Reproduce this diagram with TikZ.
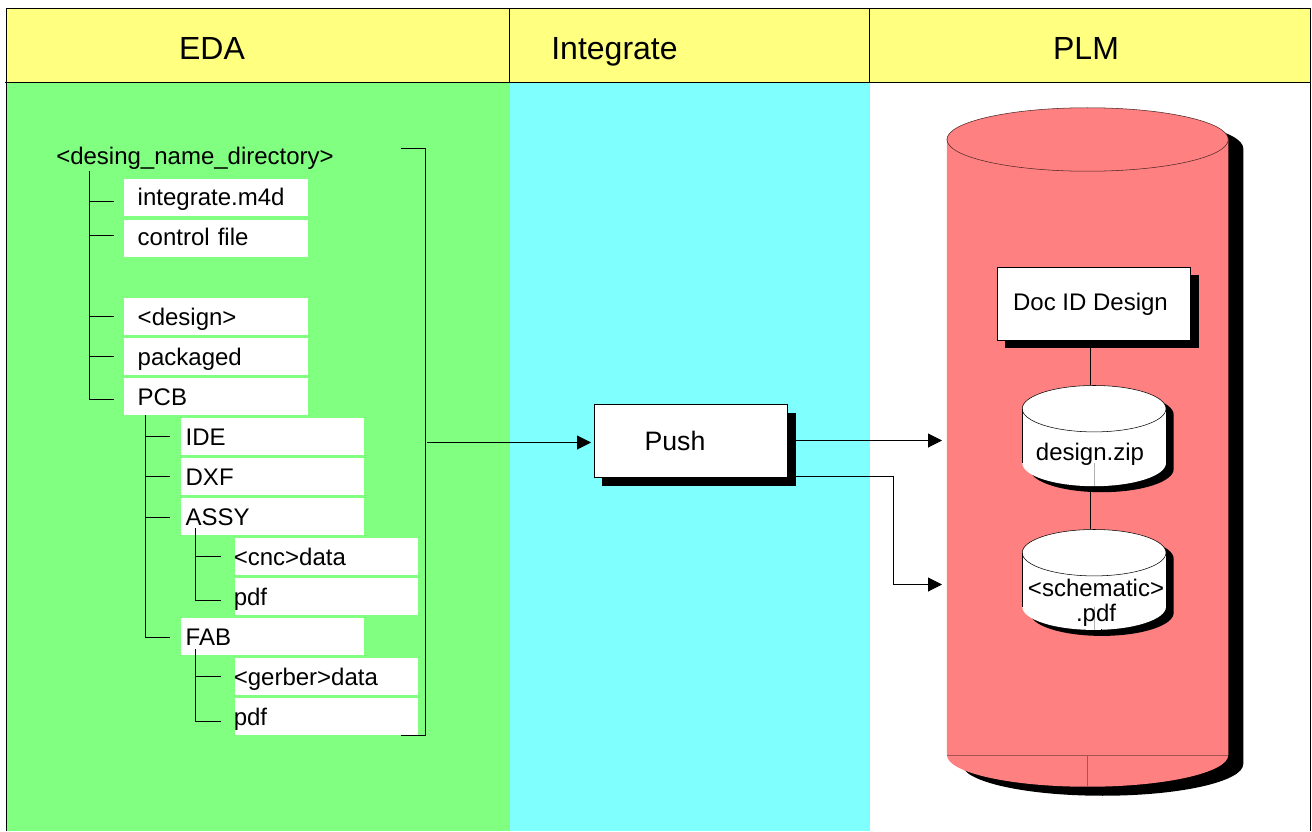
\documentclass[tikz,border=0pt]{standalone}
\usepackage{fontspec}
\setmainfont{Liberation Sans}
\usetikzlibrary{arrows.meta}
\definecolor{hdr}{HTML}{FFFF80}
\definecolor{edagreen}{HTML}{80FF80}
\definecolor{intcyan}{HTML}{80FFFF}
\definecolor{plmred}{HTML}{FF8080}
\newcommand{\fsA}{\fontsize{24pt}{28pt}\selectfont}
\newcommand{\fsB}{\fontsize{18pt}{25pt}\selectfont}
\newcommand{\fsC}{\fontsize{20pt}{24pt}\selectfont}
\tikzset{
  x=0.75pt,y=-0.75pt,
  rule/.style={draw=black,line width=0.75pt},
  conn/.style={draw=black,line width=0.75pt},
  tipped/.style={conn,-{Triangle[length=10.5pt,width=10.5pt]}},
  filebox/.style 2 args={fill=white,anchor=north west,inner ysep=0pt,inner xsep=0pt,
    text width=#1,align=left,text height=20.3pt,text depth=7.45pt,font=\fsB,
    execute at begin node={\hspace*{#2}}},
  boxA/.style={filebox={138pt}{10.1pt}},
  boxT/.style={boxA,text height=19.6pt,text depth=8.15pt},
  boxB/.style={filebox={137.25pt}{3.3pt}},
  boxC/.style={filebox={137.25pt}{-1.1pt}},
  plain/.style={inner sep=0pt,font=\fsB},
  hdrtext/.style={inner sep=0pt,font=\fsA,anchor=base},
  panel/.style={draw=black,line width=0.75pt,minimum width=144.75pt,minimum height=54.75pt,inner sep=0pt,fill=white,anchor=north west},
  shadowbox/.style={fill=black,minimum width=145.5pt,minimum height=54.75pt,inner sep=0pt,anchor=north west},
}
\newcommand{\cyl}[6]{% cx, top centre y, bottom centre y, rx pt, ry pt, fill
  \fill[#6] ([xshift=-#4]#1,#2) arc[start angle=180,end angle=0,x radius=#4,y radius=#5]
     -- ([xshift=#4]#1,#3) arc[start angle=0,end angle=-180,x radius=#4,y radius=#5] -- cycle;
}
\begin{document}
\begin{tikzpicture}
\useasboundingbox (0,0) rectangle (1312,831);
\fill[white] (0,0) rectangle (1312,831);
% column backgrounds
\fill[hdr] (6.5,8.5) rectangle (1310.5,82.5);
\fill[edagreen] (6.5,82.5) rectangle (509.5,831);
\fill[intcyan] (509.5,82.5) rectangle (869.5,831);
% frame
\draw[rule] (6.5,831) -- (6.5,8.5) -- (1310.5,8.5) -- (1310.5,831);
\draw[rule] (5,82.5) -- (1310.5,82.5);
\draw[rule] (509.5,8.5) -- (509.5,82.5);
\draw[rule] (869.5,8.5) -- (869.5,82.5);
\node[hdrtext] (hEDA) at (212,60) {EDA};
\node[hdrtext] (hInt) at (614.5,60) {Integrate};
\node[hdrtext] (hPLM) at (1086,60) {PLM};
% file boxes
\node[plain,anchor=base west] (root) at (56,165) {<desing\_name\_directory>};
\node[boxT] (f1) at (124,179) {integrate.m4d};
\node[boxT] (f2) at (124,219.5) {control file};
\node[boxA] (f3) at (124,298) {<design>};
\node[boxA] (f4) at (124,338) {packaged};
\node[boxA] (pcb) at (124,378) {PCB};
\node[boxB] (ide) at (181,418) {IDE};
\node[boxB] (dxf) at (181,458) {DXF};
\node[boxB] (assy) at (181,498) {ASSY};
\node[boxC] (cnc) at (235,538) {<cnc>data};
\node[boxC] (pdfa) at (235,578) {pdf};
\node[boxB] (fab) at (181,618) {FAB};
\node[boxC] (gerber) at (235,658) {<gerber>data};
\node[boxC] (pdfb) at (235,698) {pdf};
% tree stems
\coordinate (s0) at (89.5,171);
\foreach \n/\y in {f1/201.5,f2/235.5,f3/316.5,f4/356.5,pcb/399.5}{\coordinate (e\n) at (114,\y);\draw[conn] (s0) |- (e\n);}
\coordinate (s1) at (145.5,415);
\foreach \n/\y in {ide/436.5,dxf/476.5,assy/517.5,fab/637.5}{\coordinate (e\n) at (170,\y);\draw[conn] (s1) |- (e\n);}
\coordinate (s2) at (195.5,528);
\foreach \n/\y in {cnc/556.5,pdfa/600.5}{\coordinate (e\n) at (221,\y);\draw[conn] (s2) |- (e\n);}
\coordinate (s3) at (195.5,649);
\foreach \n/\y in {gerber/676.5,pdfb/721.5}{\coordinate (e\n) at (221,\y);\draw[conn] (s3) |- (e\n);}
% bracket
\coordinate (bt) at (401,148.5);
\coordinate (bb) at (401,735.5);
\coordinate (bm) at (427,442.5);
\draw[conn] (bt) -| (425.5,735.5) -- (bb);
% PLM cylinder
\begin{scope}[shift={(15,9)}]
\cyl{1087.6}{139.5}{755}{105.5pt}{23.8pt}{black}
\end{scope}
\cyl{1087.6}{139.5}{755}{105.5pt}{23.8pt}{plmred}
\draw[black!70!plmred,line width=0.4pt] (1087.6,139.5) ellipse [x radius=105.5pt,y radius=23.8pt];
\draw[plmred!65!black,line width=0.6pt] (947,755.5) -- (1228,755.5);
\draw[plmred!65!black,line width=0.6pt] (1087.5,755.5) -- (1087.5,787);
\draw[black,line width=0.5pt] (1102.7,787) -- (1102.7,796);
% Push
\node[shadowbox] (pushS) at (602,413) {};
\node[panel] (push) at (594,404) {};
\node[inner sep=0pt,font=\fsC,anchor=base] (pushT) at (675,450) {Push};
% Doc
\node[shadowbox] (docS) at (1005,275) {};
\node[panel] (doc) at (997,267) {};
\node[plain,anchor=base] (docT) at (1090.5,310) {Doc ID Design};
% small cylinders
\coordinate (cz) at (1090.5,385);
\coordinate (czb) at (1090.5,485);
\coordinate (cs) at (1090.5,529);
\coordinate (dl) at (1090.5,348);
\draw[conn] (dl) -- (cz);
\draw[conn] (czb) -- (cs);
\begin{scope}[shift={(7.7,6)}]
\cyl{1094.1}{408.7}{463}{53.9pt}{17.4pt}{black}
\cyl{1094.1}{552.7}{606.7}{53.9pt}{17.4pt}{black}
\end{scope}
\cyl{1094.1}{408.7}{463}{53.9pt}{17.4pt}{white}
\cyl{1094.1}{552.7}{606.7}{53.9pt}{17.4pt}{white}
\foreach \cy/\by in {408.7/463,552.7/606.7}{
  \draw[black,line width=0.4pt] (1094.1,\cy) ellipse [x radius=53.9pt,y radius=17.4pt];
  \draw[black,line width=0.7pt] (1022.5,\cy) -- (1022.5,\by);
  \draw[black!30,line width=0.4pt] (1094.5,\by) -- (1094.5,\by+23);
}
\draw[black,line width=0.5pt] (1101.7,629) -- (1101.7,636);
\node[plain,anchor=base] (zip) at (1090,460) {design.zip};
\node[plain,anchor=base] (sch) at (1096,596) {<schematic>};
\node[plain,anchor=base] (schb) at (1096,621) {.pdf};
% arrows
\coordinate (ta) at (591,442.5);
\coordinate (tb) at (942,440.5);
\coordinate (tc) at (942,584.5);
\coordinate (pa) at (796,440.5);
\coordinate (pb) at (796,476.5);
\coordinate (bend) at (893.5,476.5);
\draw[tipped] (bm) -- (ta);
\draw[tipped] (pa) -- (tb);
\draw[conn] (pb) -- (bend);
\draw[tipped] (bend) |- (tc);
\end{tikzpicture}
\end{document}
